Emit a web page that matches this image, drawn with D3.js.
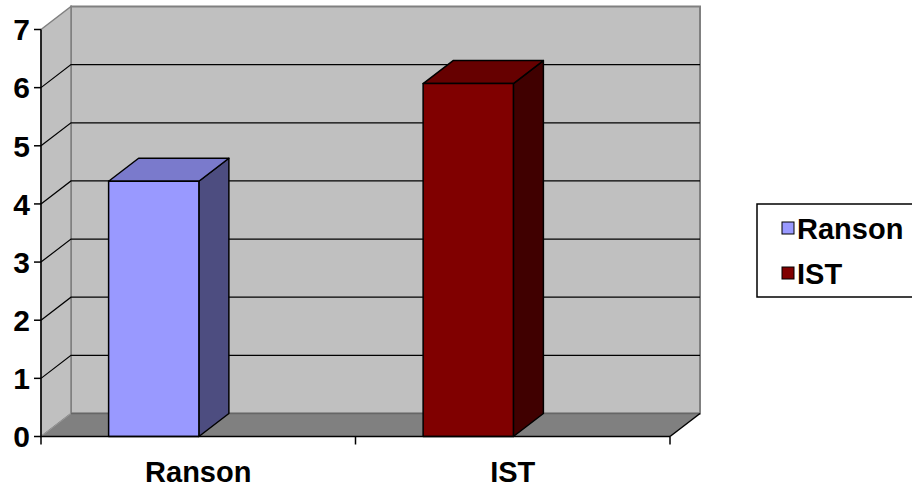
<!DOCTYPE html>
<html><head><meta charset="utf-8">
<script src="https://cdn.jsdelivr.net/npm/d3@7"></script>
<style>body{margin:0;background:#fff}svg{display:block}text{font-family:"Liberation Sans",Arial,sans-serif;font-weight:bold}</style>
</head><body><svg id="c" width="912" height="490"></svg>
<script>
const categories = ["Ranson", "IST"];
const values = [4.39, 6.07];
const yTicks = [0, 1, 2, 3, 4, 5, 6, 7];
const seriesNames = ["Ranson", "IST"];
const frontColors = ["#9999ff", "#800000"];
const topColors = ["#7a7acc", "#660000"];
const sideColors = ["#4d4d80", "#400000"];

const svg = d3.select("#c");
const X0 = 41, X1 = 670, DX = 30, DY = -23;
const y = d3.scaleLinear().domain([0, 7]).range([436.5, 29.5]);
const x = d3.scaleBand().domain(categories).range([X0, X1]);
const line = d3.line();

// back wall
svg.append("path").attr("d", line([[X0+DX, y(7)+DY],[X1+DX, y(7)+DY],[X1+DX, y(0)+DY],[X0+DX, y(0)+DY]]) + "Z")
  .attr("fill", "#c0c0c0").attr("stroke", "#808080").attr("stroke-width", 2);
// side wall
svg.append("path").attr("d", line([[X0, y(7)],[X0+DX, y(7)+DY],[X0+DX, y(0)+DY],[X0, y(0)]]) + "Z")
  .attr("fill", "#c0c0c0").attr("stroke", "#808080").attr("stroke-width", 1.5);
// floor
svg.append("path").attr("d", line([[X0, y(0)],[X0+DX, y(0)+DY],[X1+DX, y(0)+DY],[X1, y(0)]]) + "Z")
  .attr("fill", "#808080").attr("stroke", "none");
svg.append("path").attr("d", line([[X0+DX, y(0)+DY],[X1+DX, y(0)+DY]])).attr("stroke", "#666").attr("stroke-width", 1.5);
svg.append("path").attr("d", line([[X0, y(0)],[X0+DX, y(0)+DY]])).attr("stroke", "#999").attr("stroke-width", 1);
svg.append("path").attr("d", line([[X1, y(0)],[X1+DX, y(0)+DY]])).attr("stroke", "#000").attr("stroke-width", 1.5);

// gridlines
yTicks.filter(v => v > 0 && v < 7).forEach(v => {
  svg.append("path").attr("d", line([[X0, y(v)],[X0+DX, y(v)+DY],[X1+DX, y(v)+DY]]))
    .attr("fill", "none").attr("stroke", "#000").attr("stroke-width", 1.2);
});

// bars
const bw = x.bandwidth();
categories.forEach((c, i) => {
  const bx = x(c) + bw * 0.215, w = bw * 0.287;
  const top = y(values[i]), base = y(0);
  const g = svg.append("g").attr("stroke", "#000").attr("stroke-width", 1.5).attr("stroke-linejoin", "round");
  g.append("path").attr("d", line([[bx+w, base],[bx+w+DX, base+DY],[bx+w+DX, top+DY],[bx+w, top]]) + "Z").attr("fill", sideColors[i]);
  g.append("path").attr("d", line([[bx, top],[bx+DX, top+DY],[bx+w+DX, top+DY],[bx+w, top]]) + "Z").attr("fill", topColors[i]);
  g.append("rect").attr("x", bx).attr("y", top).attr("width", w).attr("height", base - top).attr("fill", frontColors[i]);
});

// axes
svg.append("path").attr("d", line([[X0, y(7)],[X0, y(0)]])).attr("stroke", "#000").attr("stroke-width", 1.5);
svg.append("path").attr("d", line([[X0, y(0)],[X1, y(0)]])).attr("stroke", "#000").attr("stroke-width", 1.5);
yTicks.forEach(v => {
  svg.append("path").attr("d", line([[X0-7, y(v)],[X0, y(v)]])).attr("stroke", "#000").attr("stroke-width", 1.5);
  svg.append("text").attr("x", 30).attr("y", y(v)).attr("dy", "0.36em").attr("text-anchor", "end")
    .attr("font-size", 30).text(v);
});
[X0, x(categories[1]), X1].forEach(t => {
  svg.append("path").attr("d", line([[t, y(0)],[t, y(0)+8]])).attr("stroke", "#000").attr("stroke-width", 1.5);
});
categories.forEach(c => {
  svg.append("text").attr("x", x(c) + bw/2).attr("y", 482).attr("text-anchor", "middle")
    .attr("font-size", 29).text(c);
});

// legend
svg.append("rect").attr("x", 757).attr("y", 204).attr("width", 170).attr("height", 93)
  .attr("fill", "#fff").attr("stroke", "#000").attr("stroke-width", 1.5);
seriesNames.forEach((s, i) => {
  const ly = 222 + i * 45;
  svg.append("rect").attr("x", 782).attr("y", ly).attr("width", 12).attr("height", 12)
    .attr("fill", frontColors[i]).attr("stroke", "#000").attr("stroke-width", 1);
  svg.append("text").attr("x", 797).attr("y", ly + 17).attr("font-size", 29).text(s);
});
</script></body></html>
